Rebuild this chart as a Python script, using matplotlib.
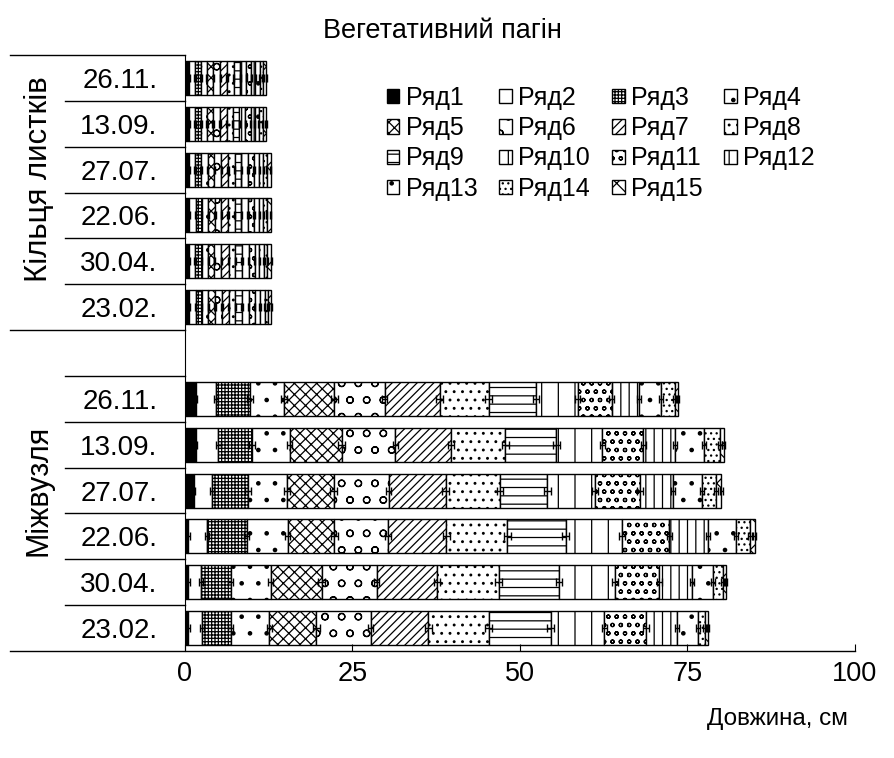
import matplotlib
matplotlib.use('Agg')
import numpy as np
import matplotlib.pyplot as plt
from matplotlib.transforms import blended_transform_factory

plt.rcParams['font.family'] = ['Liberation Sans', 'DejaVu Sans']
plt.rcParams['hatch.linewidth'] = 0.9

title = 'Вегетативний пагін'
xlabel = 'Довжина, см'
group_labels = ['Міжвузля', 'Кільця листків']
dates = ['23.02.', '30.04.', '22.06.', '27.07.', '13.09.', '26.11.']
series = ['Ряд%d' % i for i in range(1, 16)]

# міжвузля, довжина по рядах (см)
int_2302 = [0.5, 2.1, 4.2, 5.8, 7.0, 8.1, 8.6, 9.0, 9.3, 8.0, 6.2, 4.6, 3.1, 1.1, 0.4]
int_3004 = [0.5, 1.9, 4.4, 6.0, 7.6, 8.2, 9.0, 9.2, 9.0, 8.4, 6.6, 4.8, 3.2, 1.5, 0.4]
int_2206 = [0.5, 2.8, 5.9, 6.1, 7.0, 8.0, 8.7, 9.1, 8.7, 8.4, 7.1, 5.7, 4.2, 2.2, 0.65]
int_2707 = [1.3, 2.8, 5.3, 5.8, 7.0, 8.2, 8.5, 8.1, 7.1, 7.1, 6.7, 4.9, 4.3, 2.2, 0.75]
int_1309 = [1.6, 3.4, 5.0, 5.6, 7.8, 8.0, 8.3, 8.1, 7.6, 6.9, 6.1, 4.7, 4.3, 2.4, 0.6]
int_2611 = [1.6, 3.1, 5.0, 5.1, 7.5, 7.5, 8.2, 7.3, 7.1, 6.2, 5.1, 4.0, 3.3, 2.1, 0.45]

# кільця листків
leaf_2302 = [0.6, 1.0, 0.9, 1.0, 1.0, 1.0, 1.0, 1.0, 1.0, 1.0, 0.9, 0.8, 0.7, 0.5, 0.5]
leaf_3004 = [0.6, 0.9, 1.0, 1.0, 0.9, 1.0, 1.1, 1.0, 1.0, 1.0, 0.9, 0.7, 0.7, 0.5, 0.6]
leaf_2206 = [0.6, 1.0, 0.9, 1.0, 1.0, 0.9, 1.0, 1.0, 1.0, 1.0, 0.9, 0.8, 0.6, 0.5, 0.6]
leaf_2707 = [0.6, 0.9, 0.9, 1.0, 1.0, 1.0, 1.0, 1.0, 1.0, 1.0, 0.9, 0.8, 0.6, 0.5, 0.6]
leaf_1309 = [0.6, 0.9, 0.9, 0.9, 0.9, 1.0, 1.0, 0.9, 1.0, 0.9, 0.8, 0.6, 0.6, 0.6, 0.5]
leaf_2611 = [0.6, 0.9, 0.9, 0.85, 1.0, 1.0, 1.0, 1.0, 1.0, 0.9, 0.75, 0.6, 0.65, 0.5, 0.5]

int_err = [0.2, 0.3, 0.4, 0.4, 0.5, 0.4, 0.5, 0.5, 0.5, 0.4, 0.4, 0.3, 0.3, 0.3, 0.2]
leaf_err = [0.1, 0.1, 0.1, 0.1, 0.1, 0.1, 0.1, 0.1, 0.1, 0.1, 0.1, 0.1, 0.1, 0.1, 0.1]

internode = np.array([int_2302, int_3004, int_2206, int_2707, int_1309, int_2611])
leaves = np.array([leaf_2302, leaf_3004, leaf_2206, leaf_2707, leaf_1309, leaf_2611])

# рядки: 0-5 міжвузля, 6 порожній, 7-12 кільця
ypos = np.r_[np.arange(6), np.arange(7, 13)]
data = np.vstack([internode, leaves])
errs = np.vstack([np.tile(int_err, (6, 1)), np.tile(leaf_err, (6, 1))])

fills = ['black'] + ['white'] * 14
hatches = [None, None, '+++++', '.', 'xxx', 'o', '////', '..', '--',
           '|', 'oo', '||', '.', '...', 'x']

fig = plt.figure(figsize=(8.95, 7.58), dpi=100)
ax = fig.add_axes([185 / 895, 1 - 651 / 758, 670 / 895, 596 / 758])

left = np.zeros(len(ypos))
for i in range(15):
    ax.barh(ypos, data[:, i], left=left, height=0.74, color=fills[i],
            edgecolor='black', linewidth=1, hatch=hatches[i], label=series[i])
    left = left + data[:, i]
    ax.errorbar(left, ypos, xerr=errs[:, i], fmt='none', ecolor='black',
                elinewidth=1, capsize=3, capthick=1)

ax.set_xlim(0, 100)
ax.set_ylim(-0.5, 12.5)
ax.set_xticks([0, 25, 50, 75, 100])
ax.tick_params(axis='x', direction='in', length=5, labelsize=19.5, pad=7)
ax.set_yticks(ypos, dates + dates)
ax.tick_params(axis='y', length=0, labelsize=20, pad=20)
for s in ['top', 'right']:
    ax.spines[s].set_visible(False)
ax.spines['bottom'].set_visible(False)

tr = blended_transform_factory(ax.transAxes, ax.transData)
x_grp = -175 / 670
x_date = -120 / 670
for yb in [-0.5, 6.5, 12.5]:
    ax.plot([x_grp, 1.0 if yb == -0.5 else 0], [yb, yb], color='black',
            lw=1, transform=tr, clip_on=False)
for yb in [0.5, 1.5, 2.5, 3.5, 4.5, 5.5, 7.5, 8.5, 9.5, 10.5, 11.5]:
    ax.plot([x_date, 0], [yb, yb], color='black', lw=1, transform=tr,
            clip_on=False)

ax.text(-146 / 670, 3.0, group_labels[0], rotation=90, fontsize=22,
        ha='center', va='center', transform=tr)
ax.text(-146 / 670, 9.8, group_labels[1], rotation=90, fontsize=22.5,
        ha='center', va='center', transform=tr)

fig.text(442 / 895, 1 - 31 / 758, title, fontsize=19.5, ha='center', va='center')
fig.text(848 / 895, 1 - 719 / 758, xlabel, fontsize=17.5, ha='right', va='center')

h, l = ax.get_legend_handles_labels()
order = [0, 4, 8, 12, 1, 5, 9, 13, 2, 6, 10, 14, 3, 7, 11]
fig.legend([h[k] for k in order], [l[k] for k in order], ncol=4,
           loc='upper left', bbox_to_anchor=(387 / 895, 1 - 86 / 758),
           frameon=False, fontsize=18, handlelength=0.5, handleheight=0.5,
           handletextpad=0.25, columnspacing=0.88, labelspacing=0.25,
           borderpad=0, borderaxespad=0)

fig.savefig('out.png', dpi=100)
